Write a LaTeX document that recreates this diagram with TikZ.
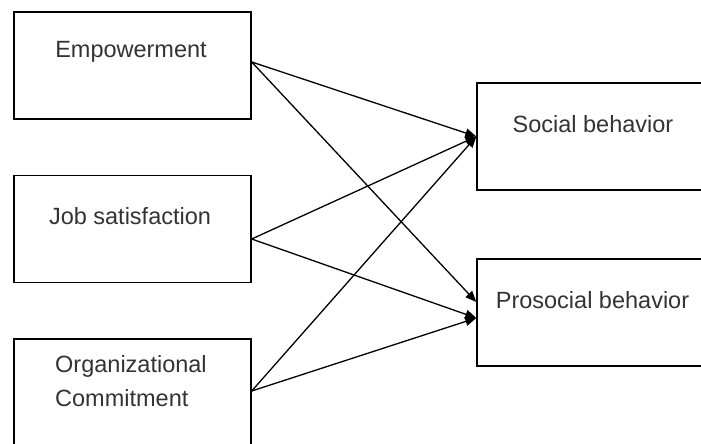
\documentclass[tikz,border=0pt]{standalone}
\usepackage{fontspec}
\setmainfont{Liberation Sans}
\usetikzlibrary{arrows.meta, positioning}

\begin{document}
\begin{tikzpicture}[
  x=1pt, y=-1pt,
  box/.style={draw, line width=1.4pt, minimum width=237pt,
    minimum height=107pt, inner sep=0pt},
  txt/.style={font=\fontsize{23.5}{34}\selectfont, text=black!80,
    inner sep=0pt},
  arr/.style={-{Triangle[length=11pt, width=9pt]}, line width=1.3pt}
]
  \useasboundingbox (0,0) rectangle (701,444);

  % Predictors
  \node[box] (emp) at (132.5, 65.5) {};
  \node[txt, anchor=base] (empt) at (131, 57) {Empowerment};

  \node[box] (job) at (132.5, 229) {};
  \node[txt, anchor=base] (jobt) at (130, 224) {Job satisfaction};

  \node[box] (org) at (132.5, 392.5) {};
  \node[txt, anchor=base west, align=left] (orgt) at (55, 406)
    {Organizational\\Commitment};

  % Outcomes
  \node[box] (soc) at (595.5, 136.5) {};
  \node[txt, anchor=base] (soct) at (593, 132) {Social behavior};

  \node[box] (pro) at (595.5, 312.5) {};
  \node[txt, anchor=base] (prot) at (592.5, 308) {Prosocial behavior};

  % Paths
  \draw[arr] ([yshift=3.5pt]emp.east) -- (soc.west);
  \draw[arr] ([yshift=3.5pt]emp.east) -- ([yshift=10.5pt]pro.west);
  \draw[arr] ([yshift=-10pt]job.east) -- (soc.west);
  \draw[arr] ([yshift=-10pt]job.east) -- ([yshift=-5.5pt]pro.west);
  \draw[arr] ([yshift=1.5pt]org.east) -- (soc.west);
  \draw[arr] ([yshift=1.5pt]org.east) -- ([yshift=-5.5pt]pro.west);
\end{tikzpicture}
\end{document}
